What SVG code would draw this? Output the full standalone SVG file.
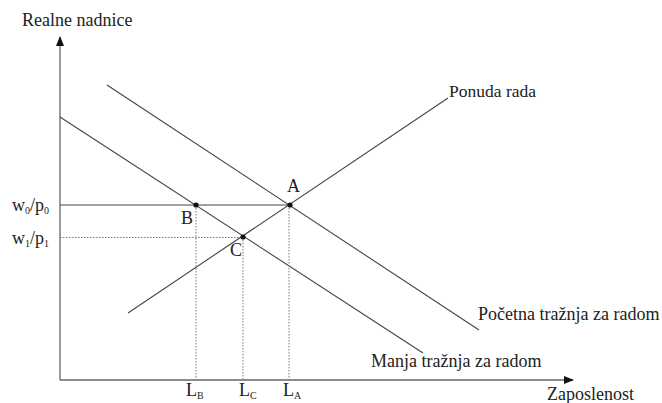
<svg xmlns="http://www.w3.org/2000/svg" width="662" height="403" viewBox="0 0 662 403" font-family="Liberation Serif, Times New Roman, serif" font-size="18">
<style>
.sub{font-size:10px}
.ax{stroke:#666;stroke-width:1.3;fill:none}
.ln{stroke:#444;stroke-width:1.1;fill:none}
.dt{stroke:#777;stroke-width:1;stroke-dasharray:1.5 1.5;fill:none}
.t{fill:#222}
</style>
<defs>
<marker id="arr" markerWidth="10" markerHeight="10" refX="9" refY="5" orient="auto" markerUnits="userSpaceOnUse">
<path d="M0,1 L10,5 L0,9 Z" fill="#111"/>
</marker>
</defs>
<g id="axes">
<line class="ax" x1="60" y1="380" x2="60" y2="37" marker-end="url(#arr)"/>
<line class="ax" x1="60" y1="380" x2="573" y2="380" marker-end="url(#arr)"/>
<text class="t" x="22" y="26" font-family="Liberation Serif">Realne nadnice</text>
<text class="t" x="547" y="400" font-family="Liberation Serif">Zaposlenost</text>
</g>
<g id="connectors">
<line id="supply" class="ln" x1="128" y1="313" x2="448" y2="98"/>
<line id="demand0" class="ln" x1="107" y1="85" x2="479" y2="330"/>
<line id="demand1" class="ln" x1="60" y1="117" x2="423" y2="353"/>
<line class="ln" x1="60" y1="205" x2="290" y2="205"/>
<line class="dt" x1="60" y1="237.5" x2="243" y2="237.5"/>
<line class="dt" x1="196" y1="205" x2="196" y2="380"/>
<line class="dt" x1="243" y1="237" x2="243" y2="380"/>
<line class="dt" x1="289" y1="205" x2="289" y2="380"/>
</g>
<g id="labels" font-family="Liberation Serif">
<text class="t" x="449" y="97" font-size="17.5">Ponuda rada</text>
<text class="t" x="478" y="320">Početna tražnja za radom</text>
<text class="t" x="371" y="367">Manja tražnja za radom</text>
<text class="t" x="12" y="211">w<tspan class="sub" dy="3">0</tspan><tspan dy="-3">/p</tspan><tspan class="sub" dy="3">0</tspan></text>
<text class="t" x="12" y="244">w<tspan class="sub" dy="3">1</tspan><tspan dy="-3">/p</tspan><tspan class="sub" dy="3">1</tspan></text>
<text class="t" x="186" y="396">L<tspan class="sub" dy="3">B</tspan></text>
<text class="t" x="239" y="396">L<tspan class="sub" dy="3">C</tspan></text>
<text class="t" x="283" y="396">L<tspan class="sub" dy="3">A</tspan></text>
</g>
<g id="A" font-family="Liberation Serif"><circle cx="290" cy="205" r="2.6" fill="#111"/><text class="t" x="287" y="192">A</text></g>
<g id="B" font-family="Liberation Serif"><circle cx="196" cy="205" r="2.6" fill="#111"/><text class="t" x="181" y="224">B</text></g>
<g id="C" font-family="Liberation Serif"><circle cx="243" cy="237" r="2.6" fill="#111"/><text class="t" x="230" y="256">C</text></g>
</svg>
